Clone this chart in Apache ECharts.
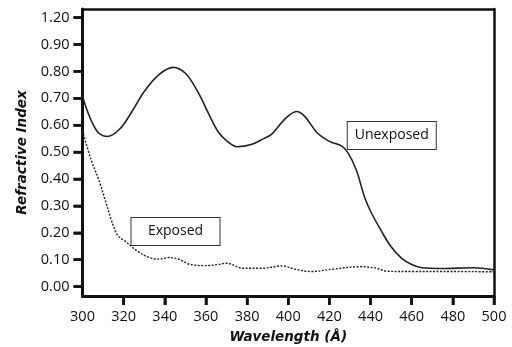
<!DOCTYPE html>
<html><head><meta charset="utf-8">
<script src="https://cdn.jsdelivr.net/npm/echarts@6/dist/echarts.min.js"></script>
<style>html,body{margin:0;padding:0;background:#fff}#c{width:512px;height:347px}</style>
</head><body><div id="c"></div>
<script>
var unexposedX = [300,302,305,308,312,318,324,330,337,344,350,356,362,366,370,375,382,388,392,398,404,408,414,420,426,429,433,437,440,445,450,455,460,465,475,490,500];
var unexposedY = [0.71,0.66,0.605,0.57,0.558,0.585,0.65,0.725,0.787,0.815,0.793,0.725,0.632,0.575,0.543,0.52,0.528,0.55,0.567,0.62,0.651,0.633,0.572,0.54,0.522,0.498,0.435,0.335,0.28,0.21,0.148,0.106,0.082,0.07,0.067,0.07,0.062];
var exposedX = [300,304,308,311,314,317,321,327,332,337,342,347,352,360,366,370,378,387,397,403,411,422,435,443,448,460,476,500];
var exposedY = [0.58,0.475,0.395,0.322,0.248,0.192,0.167,0.13,0.109,0.102,0.108,0.101,0.083,0.078,0.082,0.087,0.068,0.068,0.077,0.065,0.056,0.065,0.074,0.068,0.057,0.056,0.056,0.055];
var yTickValues = [0,0.1,0.2,0.3,0.4,0.5,0.6,0.7,0.8,0.9,1.0];
var yTickLabels = ['0.00','0.10','0.20','0.30','0.40','0.50','0.60','0.70','0.80','0.90','1.20'];
var xTickValues = [320,340,360,380,400,420,440,460,480,500];
var annotations = [
  {name:'Unexposed', x:450.3, y:0.562},
  {name:'Exposed', x:345.2, y:0.205}
];

function pairs(xs, ys){ return xs.map(function(x,i){return [x, ys[i]];}); }
var font = '"Open Sans", "Noto Sans", sans-serif';
var titleFont = '"DejaVu Sans", sans-serif';
var ink = '#111';
var yMin = -0.035, yMax = 1.032, xMin = 300, xMax = 500;
function yFmt(v){ for(var i=0;i<yTickValues.length;i++){ if(Math.abs(v-yTickValues[i])<1e-6) return yTickLabels[i]; } return ''; }

var chart = echarts.init(document.getElementById('c'), null, {renderer:'canvas'});
chart.setOption({
  animation:false,
  backgroundColor:'#fff',
  grid:{left:82.5, right:18, top:9, bottom:51, containLabel:false, outerBoundsMode:'none', show:false},
  xAxis:[{
    type:'value', min:xMin, max:xMax, interval:20,
    name:'Wavelength (Å)', nameLocation:'middle', nameGap:34,
    nameTextStyle:{fontFamily:titleFont, fontSize:13.5, fontWeight:'bold', fontStyle:'italic', color:ink},
    axisLine:{show:true, onZero:false, lineStyle:{color:ink, width:3}},
    axisTick:{show:true, inside:false, length:9, customValues:xTickValues, lineStyle:{color:ink, width:2.5}},
    axisLabel:{show:true, fontFamily:font, fontSize:14.5, color:ink, margin:13},
    splitLine:{show:false}
  },{
    type:'value', position:'top', min:xMin, max:xMax,
    axisLine:{show:true, onZero:false, lineStyle:{color:ink, width:2.5}},
    axisTick:{show:false}, axisLabel:{show:false}, splitLine:{show:false}
  }],
  yAxis:[{
    type:'value', min:yMin, max:yMax,
    name:'Refractive Index', nameLocation:'middle', nameGap:52, nameRotate:90,
    nameTextStyle:{fontFamily:titleFont, fontSize:13.5, fontWeight:'bold', fontStyle:'italic', color:ink},
    axisLine:{show:true, onZero:false, lineStyle:{color:ink, width:3}},
    axisTick:{show:true, inside:false, length:9, customValues:yTickValues, lineStyle:{color:ink, width:2.5}},
    axisLabel:{show:true, fontFamily:font, fontSize:14.5, color:ink, margin:13, customValues:yTickValues, formatter:yFmt},
    splitLine:{show:false}
  },{
    type:'value', position:'right', min:yMin, max:yMax,
    axisLine:{show:true, onZero:false, lineStyle:{color:ink, width:2.5}},
    axisTick:{show:false}, axisLabel:{show:false}, splitLine:{show:false}
  }],
  series:[
    {type:'line', name:'Unexposed', data:pairs(unexposedX, unexposedY), smooth:0.35, showSymbol:false,
     lineStyle:{color:'#222', width:1.6},
     markPoint:{symbol:'rect', symbolSize:0, data:annotations.map(function(a){return {name:a.name, coord:[a.x,a.y]};}),
       label:{show:true, position:'inside', formatter:'{b}', fontFamily:font, fontSize:14, color:ink,
         width:70, align:'center', backgroundColor:'#fff', borderColor:'#333', borderWidth:1, padding:[5,9], lineHeight:17}}},
    {type:'line', name:'Exposed', data:pairs(exposedX, exposedY), smooth:0.35, showSymbol:false,
     lineStyle:{color:'#222', width:1.4, type:[2,1.5]}}
  ]
});

// Backup outward tick marks placed from the axis scales
var tickLen = 9, tickW = 2.5;
var axisBottom = chart.convertToPixel({yAxisIndex:0}, yMin);
var axisLeft = chart.convertToPixel({xAxisIndex:0}, xMin);
var ticks = [];
xTickValues.forEach(function(v){
  var px = chart.convertToPixel({xAxisIndex:0}, v);
  ticks.push({type:'rect', silent:true, z:50, shape:{x:px - tickW/2, y:axisBottom, width:tickW, height:tickLen}, style:{fill:ink}});
});
yTickValues.forEach(function(v){
  var py = chart.convertToPixel({yAxisIndex:0}, v);
  ticks.push({type:'rect', silent:true, z:50, shape:{x:axisLeft - tickLen, y:py - tickW/2, width:tickLen, height:tickW}, style:{fill:ink}});
});
chart.setOption({graphic:ticks});
</script></body></html>
